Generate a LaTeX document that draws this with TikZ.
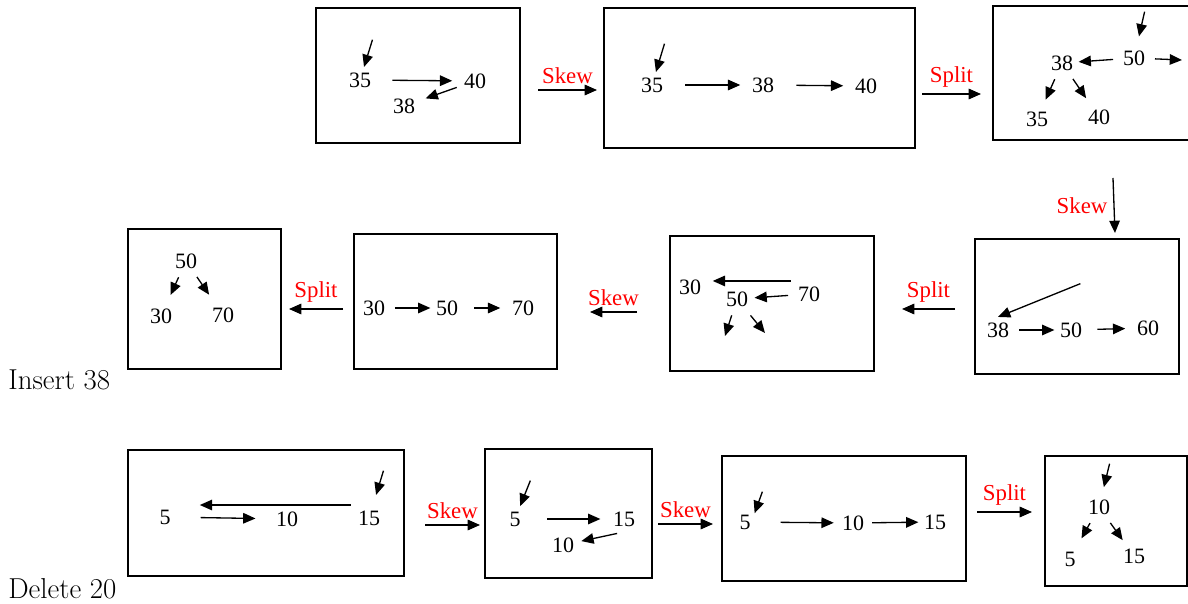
\documentclass[tikz,border=0pt]{standalone}
\usepackage{fontspec}
\newfontfamily\tnr{Liberation Serif}
\usetikzlibrary{arrows.meta}

\begin{document}
\begin{tikzpicture}[x=0.02cm, y=-0.02cm,
    num/.style={font=\tnr\fontsize{12.5}{14}\selectfont, inner sep=3pt},
    lbl/.style={font=\tnr\fontsize{13}{15}\selectfont, text=red},
    box/.style={draw, line width=0.75pt},
    ptr/.style={-{Triangle[length=7pt,width=6pt]}, line width=0.75pt, shorten <=1pt},
    stage/.style={ptr, shorten <=0pt}]
\useasboundingbox (0,0) rectangle (1188,604);

% Insert 38, top row
\draw[box] (316,8) rectangle (520,143);
\coordinate (i1-h) at (373,38);
\node[num] (i1-35) at (360,80) {35};
\node[num] (i1-40) at (475,81) {40};
\node[num] (i1-38) at (404,106) {38};
\draw[ptr] (i1-h) -- (i1-35);
\draw[ptr, shorten <=9pt, shorten >=3.5pt] (i1-35) -- (i1-40);
\draw[ptr, shorten >=3pt] (i1-40) -- (i1-38);

\coordinate (s1a) at (538,90);
\coordinate (s1b) at (597,90);
\draw[stage] (s1a) -- node[lbl, above] {Skew} (s1b);

\draw[box] (604,8) rectangle (915,148);
\coordinate (i2-h) at (665,42);
\node[num] (i2-35) at (652,85) {35};
\node[num] (i2-38) at (763,85) {38};
\node[num] (i2-40) at (866,86) {40};
\draw[ptr] (i2-h) -- (i2-35);
\draw[ptr, shorten <=9.5pt, shorten >=3.5pt] (i2-35) -- (i2-38);
\draw[ptr, shorten <=9.5pt, shorten >=3.5pt] (i2-38) -- (i2-40);

\coordinate (s2a) at (922,94);
\coordinate (s2b) at (981,94);
\draw[stage] (s2a) -- node[lbl, above] {Split} (s2b);

\draw[box] (1195,6) -- (993,6) -- (993,140) -- (1195,140);
\coordinate (i3-h) at (1145,10);
\coordinate (i3-r) at (1182,60);
\node[num] (i3-50) at (1134,58) {50};
\node[num] (i3-38) at (1062,63) {38};
\node[num] (i3-35) at (1037,119) {35};
\node[num] (i3-40) at (1099,117) {40};
\draw[ptr, shorten >=5pt] (i3-h) -- (i3-50);
\draw[ptr, shorten <=2.5pt] (i3-50) -- (i3-38);
\draw[ptr, shorten <=2.5pt] (i3-50) -- (i3-r);
\draw[ptr, shorten <=2pt, shorten >=4pt] (i3-38) -- (i3-35);
\draw[ptr, shorten <=2pt, shorten >=4pt] (i3-38) -- (i3-40);

\coordinate (s3a) at (1113,178);
\coordinate (s3b) at (1115,233);
\draw[stage] (s3a) -- node[lbl, left] {Skew} (s3b);

% Insert 38, middle row (right to left)
\draw[box] (975,239) rectangle (1179,374);
\coordinate (i4-h) at (1082,283);
\node[num] (i4-38) at (998,330) {38};
\node[num] (i4-50) at (1071,330) {50};
\node[num] (i4-60) at (1148,328) {60};
\draw[ptr] (i4-h) -- (i4-38.north);
\draw[ptr, shorten <=2.5pt] (i4-38) -- (i4-50);
\draw[ptr, shorten <=5.5pt, shorten >=3.5pt] (i4-50) -- (i4-60);

\coordinate (s4a) at (955,309);
\coordinate (s4b) at (902,309);
\draw[stage] (s4a) -- node[lbl, above] {Split} (s4b);

\draw[box] (670,236) rectangle (874,371);
\coordinate (i5-l) at (725,336);
\coordinate (i5-r) at (765,333);
\node[num] (i5-30) at (690,287) {30};
\node[num] (i5-70) at (809,294) {70};
\node[num] (i5-50) at (737,299) {50};
\draw[ptr, shorten >=3.5pt] (i5-70.north west) -- (i5-70.north west -| i5-30.east);
\draw[ptr, shorten <=2.5pt, shorten >=0.5pt] (i5-70) -- (i5-50);
\draw[ptr, shorten <=2pt] (i5-50) -- (i5-l);
\draw[ptr, shorten <=2.5pt] (i5-50) -- (i5-r);

\coordinate (s5a) at (637,312);
\coordinate (s5b) at (590,312);
\draw[stage] (s5a) -- node[lbl, above] {Skew} (s5b);

\draw[box] (354,234) rectangle (557,369);
\node[num] (i6-30) at (374,308) {30};
\node[num] (i6-50) at (447,308) {50};
\node[num] (i6-70) at (523,308) {70};
\draw[ptr, shorten <=2.5pt] (i6-30) -- (i6-50);
\draw[ptr, shorten <=6pt, shorten >=3.5pt] (i6-50) -- (i6-70);

\coordinate (s6a) at (343,309);
\coordinate (s6b) at (289,309);
\draw[stage] (s6a) -- node[lbl, above] {Split} (s6b);

\draw[box] (128,229) rectangle (281,369);
\node[num] (i7-50) at (186,261) {50};
\node[num] (i7-30) at (161,316) {30};
\node[num] (i7-70) at (223,315) {70};
\draw[ptr, shorten <=2pt, shorten >=5pt] (i7-50) -- (i7-30);
\draw[ptr, shorten <=2pt, shorten >=5pt] (i7-50) -- (i7-70);

\node[anchor=west, inner sep=0pt, font=\fontsize{16.4}{19}\selectfont] (ins) at (8,380) {Insert 38};

% Delete 20, bottom row
\draw[box] (128,450) rectangle (404,576);
\coordinate (d1-h) at (384,469);
\node[num] (d1-5) at (165,517) {5};
\node[num] (d1-10) at (287,519) {10};
\node[num] (d1-15) at (369,518) {15};
\draw[ptr, shorten >=6pt] (d1-h) -- (d1-15);
\draw[ptr, shorten >=13.5pt] (d1-15.north west) -- (d1-15.north west -| d1-5.east);
\draw[ptr, shorten <=14pt, shorten >=8.5pt] (d1-5) -- (d1-10);

\coordinate (s7a) at (425,525);
\coordinate (s7b) at (480,525);
\draw[stage] (s7a) -- node[lbl, above] {Skew} (s7b);

\draw[box] (485,449) rectangle (652,578);
\coordinate (d2-h) at (531,479);
\node[num] (d2-5) at (515,519) {5};
\node[num] (d2-15) at (624,519) {15};
\node[num] (d2-10) at (563,545) {10};
\draw[ptr] (d2-h) -- (d2-5);
\draw[ptr, shorten <=12pt, shorten >=4pt] (d2-5) -- (d2-15);
\draw[ptr, shorten <=4pt, shorten >=1pt] (d2-15.south) -- (d2-10);

\coordinate (s8a) at (658,524);
\coordinate (s8b) at (713,524);
\draw[stage] (s8a) -- node[lbl, above] {Skew} (s8b);

\draw[box] (722,456) rectangle (966,581);
\coordinate (d3-h) at (763,490);
\node[num] (d3-5) at (745,522) {5};
\node[num] (d3-10) at (853,523) {10};
\node[num] (d3-15) at (935,522) {15};
\draw[ptr, shorten >=-2.5pt] (d3-h) -- (d3-5.north east);
\draw[ptr, shorten <=14pt, shorten >=1.5pt] (d3-5) -- (d3-10);
\draw[ptr, shorten <=1.5pt] (d3-10) -- (d3-15);

\coordinate (s9a) at (977,512);
\coordinate (s9b) at (1032,512);
\draw[stage] (s9a) -- node[lbl, above] {Split} (s9b);

\draw[box] (1045,456) rectangle (1187,586);
\coordinate (d4-h) at (1110,462);
\node[num] (d4-10) at (1099,507) {10};
\node[num] (d4-5) at (1070,559) {5};
\node[num] (d4-15) at (1134,556) {15};
\draw[ptr, shorten >=4pt] (d4-h) -- (d4-10);
\draw[ptr, shorten <=2pt, shorten >=5pt] (d4-10) -- (d4-5);
\draw[ptr, shorten <=2pt, shorten >=2pt] (d4-10) -- (d4-15);

\node[anchor=west, inner sep=0pt, font=\fontsize{16.4}{19}\selectfont] (del) at (8,589) {Delete 20};
\end{tikzpicture}
\end{document}
